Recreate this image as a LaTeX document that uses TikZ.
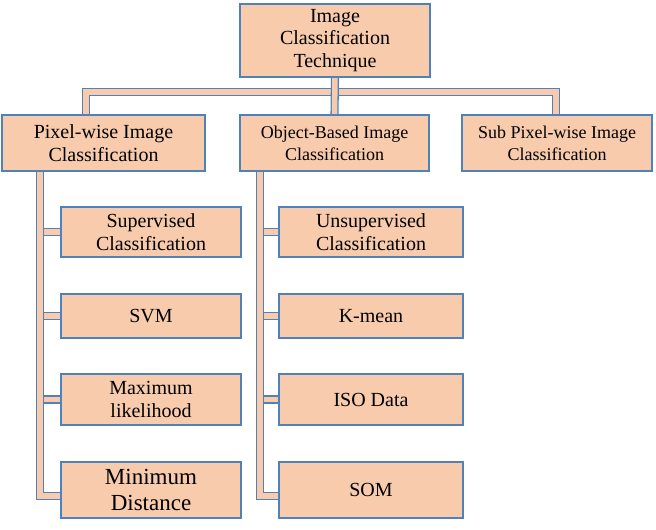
\documentclass[tikz,border=0pt]{standalone}
\usepackage{fontspec}
\setmainfont{Liberation Serif}
\newfontfamily\tnr{Liberation Serif}
\usetikzlibrary{backgrounds}
\definecolor{boxfill}{HTML}{F8CBAD}
\definecolor{boxline}{HTML}{4F81BD}
\tikzset{
  box/.style={draw=boxline, line width=1.4bp, fill=boxfill, inner sep=0pt,
    align=center, text=black, font=\tnr\fontsize{20bp}{22.5bp}\selectfont},
  midfont/.style={font=\tnr\fontsize{18bp}{22bp}\selectfont},
  bigfont/.style={font=\tnr\fontsize{23bp}{26bp}\selectfont},
  bar/.style={draw=boxline, double=boxfill, line width=1.3bp, double distance=5.5bp}
}
\begin{document}
\begin{tikzpicture}[x=1bp,y=-1bp]
\useasboundingbox (0,0) rectangle (656,530);
% top
\node[box, minimum width=190bp, minimum height=73bp] (top) at (335,40.5) {Image\\Classification\\Technique};
% second row
\node[box, minimum width=203bp, minimum height=56bp] (pix) at (103.5,143) {Pixel-wise Image\\Classification};
\node[box, midfont, minimum width=189bp, minimum height=56bp] (obj) at (334.5,143) {Object-Based Image\\Classification};
\node[box, midfont, minimum width=190bp, minimum height=56bp] (sub) at (557,143) {Sub Pixel-wise Image\\Classification};
% left column
\node[box, minimum width=180bp, minimum height=50bp] (sup) at (151,232) {Supervised\\Classification};
\node[box, minimum width=180bp, minimum height=44bp] (svm) at (151,316) {SVM};
\node[box, minimum width=180bp, minimum height=51bp] (max) at (151,399.5) {Maximum\\likelihood};
\node[box, bigfont, minimum width=180bp, minimum height=56bp] (min) at (151,490) {Minimum\\Distance};
% right column
\node[box, minimum width=184bp, minimum height=50bp] (uns) at (371,232) {Unsupervised\\Classification};
\node[box, minimum width=184bp, minimum height=44bp] (km) at (371,316) {K-mean};
\node[box, minimum width=184bp, minimum height=51bp] (iso) at (371,399.5) {ISO Data};
\node[box, minimum width=184bp, minimum height=56bp] (som) at (371,490) {SOM};
% connector corners
\coordinate (hl) at (86,92);
\coordinate (hr) at (556,92);
\coordinate (lb) at (40,496);
\coordinate (rb) at (260,496);
\coordinate (lbi) at (44,496);
\coordinate (rbi) at (264,496);
\begin{scope}[on background layer]
\draw[bar] (hl |- pix.north) -- (hl) -- (hr) -- (hr |- sub.north);
\draw[bar] (top.south) -- (obj.north);
\draw[bar] (lb |- pix.south) -- (lb) -- (lb -| min.west);
\draw[bar] (lbi |- sup.west) -- (sup.west);
\draw[bar] (lbi |- svm.west) -- (svm.west);
\draw[bar] (lbi |- max.west) -- (max.west);
\draw[bar] (rb |- obj.south) -- (rb) -- (rb -| som.west);
\draw[bar] (rbi |- uns.west) -- (uns.west);
\draw[bar] (rbi |- km.west) -- (km.west);
\draw[bar] (rbi |- iso.west) -- (iso.west);
\end{scope}
\end{tikzpicture}
\end{document}
